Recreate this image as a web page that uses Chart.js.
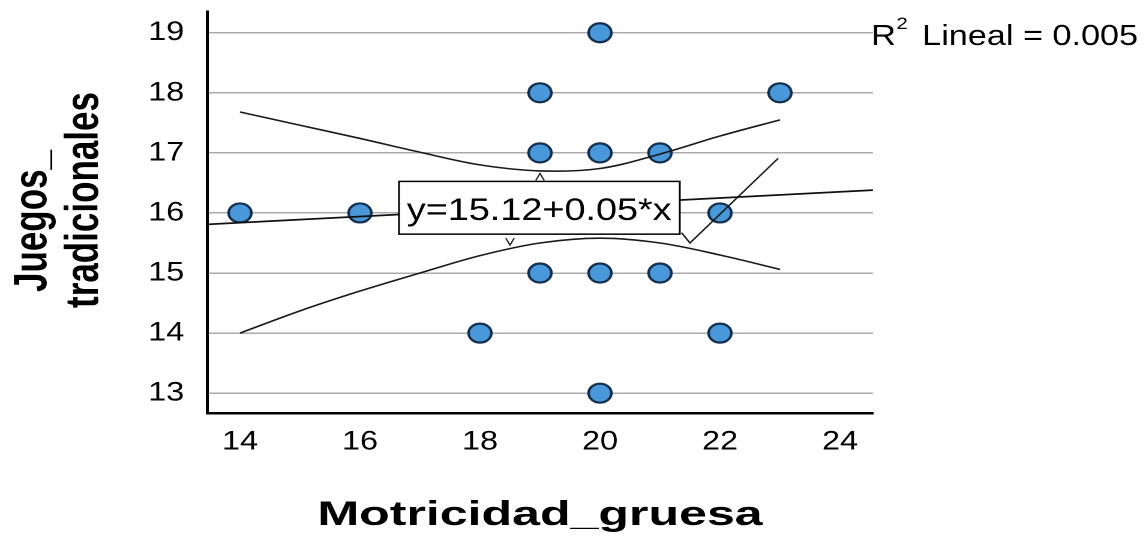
<!DOCTYPE html>
<html><head><meta charset="utf-8">
<script src="https://cdn.jsdelivr.net/npm/chart.js@4.4.1/dist/chart.umd.min.js"></script>
<style>
html,body{margin:0;padding:0;background:#fff;overflow:hidden;width:1144px;height:541px;}
#wrap{position:absolute;left:0;top:0;width:953.333px;height:541px;transform:scaleX(1.2);transform-origin:0 0;}
</style></head><body>
<div id="wrap"><canvas id="c"></canvas></div>
<script>
// ---- data ----
const xTicks = [14, 16, 18, 20, 22, 24];
const yTicks = [13, 14, 15, 16, 17, 18, 19];
const pointX = [14, 16, 18, 19, 19, 19, 20, 20, 20, 20, 21, 21, 22, 22, 23];
const pointY = [16, 16, 14, 18, 17, 15, 19, 17, 15, 13, 17, 15, 16, 14, 18];
const fitX = [13.45, 24.55];
const fitY = [15.81, 16.38];
const bandX = [14, 15, 16, 17, 18, 19, 20, 21, 22, 23];
const upperY = [17.68, 17.46, 17.24, 17.01, 16.80, 16.70, 16.74, 16.98, 17.28, 17.55];
const lowerY = [14.00, 14.37, 14.70, 15.00, 15.29, 15.50, 15.58, 15.50, 15.30, 15.06];
const leaderX = [21.36, 21.5, 22.97];
const leaderY = [15.67, 15.50, 16.91];
const xTitle = 'Motricidad_gruesa';
const yTitle = ['Juegos_', 'tradicionales'];
const eqText = 'y=15.12+0.05*x';
const r2Parts = ['R', '2', 'Lineal = 0.005'];

const FONT = '"Liberation Sans", Arial, Helvetica, sans-serif';
const pts = (xs, ys) => xs.map((v, i) => ({x: v, y: ys[i]}));

const overlay = {
  id: 'overlay',
  afterDatasetsDraw(chart) {
    const {ctx, scales: {x, y}} = chart;
    // equation label box
    const l = x.getPixelForValue(16.65), r = x.getPixelForValue(21.33);
    const t = y.getPixelForValue(16.525), b = y.getPixelForValue(15.647);
    ctx.save();
    ctx.fillStyle = '#fff';
    ctx.fillRect(l, t, r - l, b - t);
    ctx.strokeStyle = '#000';
    ctx.lineWidth = 1.5;
    ctx.strokeRect(l, t, r - l, b - t);
    ctx.font = '31.5px ' + FONT;
    ctx.fillStyle = '#000';
    ctx.textAlign = 'left';
    ctx.textBaseline = 'alphabetic';
    ctx.fillText(eqText, l + 6.5, b - 14);
    // small pointer carets
    ctx.lineWidth = 1.2;
    ctx.strokeStyle = '#222';
    const cx1 = x.getPixelForValue(19.0);
    ctx.beginPath(); ctx.moveTo(cx1 - 3.5, t - 1); ctx.lineTo(cx1, t - 8); ctx.lineTo(cx1 + 3.5, t - 1); ctx.stroke();
    const cx2 = x.getPixelForValue(18.5);
    ctx.beginPath(); ctx.moveTo(cx2 - 3.5, b + 4); ctx.lineTo(cx2, b + 11); ctx.lineTo(cx2 + 3.5, b + 4); ctx.stroke();
    ctx.restore();
  },
  afterDraw(chart) {
    const {ctx, chartArea} = chart;
    ctx.save();
    ctx.fillStyle = '#000';
    ctx.textBaseline = 'alphabetic';
    // R^2 text
    ctx.textAlign = 'left';
    ctx.font = '28.5px ' + FONT;
    let px = chartArea.right - 1.5;
    const base = 45;
    ctx.fillText(r2Parts[0], px, base);
    px += ctx.measureText(r2Parts[0]).width;
    ctx.font = '17px ' + FONT;
    ctx.fillText(r2Parts[1], px + 0.5, base - 16);
    ctx.font = '28.5px ' + FONT;
    ctx.fillText(r2Parts[2], 768.5, base);
    // x title
    ctx.font = 'bold 34px ' + FONT;
    const w = ctx.measureText(xTitle).width;
    ctx.save();
    ctx.translate((chartArea.left + chartArea.right) / 2, 525);
    ctx.scale(371 / w, 1);
    ctx.textAlign = 'center';
    ctx.fillText(xTitle, 0, 0);
    ctx.restore();
    // y title (two lines, rotated)
    ctx.font = 'bold 35px ' + FONT;
    ctx.textAlign = 'center';
    [[38.5, 221], [81.5, 200]].forEach(([bx, cy], i) => {
      ctx.save();
      ctx.translate(bx, cy);
      ctx.scale(1.1, 1);
      ctx.rotate(-Math.PI / 2);
      ctx.fillText(yTitle[i], 0, 0);
      ctx.restore();
    });
    ctx.restore();
  }
};

const lineDs = (data, extra) => Object.assign({
  data, showLine: true, borderColor: '#1a1a1a', borderWidth: 1.6,
  pointRadius: 0, pointHoverRadius: 0, fill: false
}, extra || {});

new Chart(document.getElementById('c'), {
  type: 'scatter',
  data: {
    datasets: [
      lineDs(pts(fitX, fitY), {borderWidth: 1.8, borderColor: '#111'}),
      lineDs(pts(bandX, upperY), {tension: 0.35}),
      lineDs(pts(bandX, lowerY), {tension: 0.35}),
      lineDs(pts(leaderX, leaderY), {borderWidth: 1.4}),
      {
        data: pts(pointX, pointY),
        pointRadius: 9.5, pointHoverRadius: 9.5,
        backgroundColor: 'rgb(72,152,218)',
        borderColor: 'rgb(20,46,78)', borderWidth: 2.2
      }
    ]
  },
  options: {
    responsive: true, maintainAspectRatio: false, animation: false,
    devicePixelRatio: 2,
    plugins: {legend: {display: false}, tooltip: {enabled: false}},
    layout: {padding: {left: 0, top: 9, right: 225.83, bottom: 0}},
    scales: {
      x: {
        type: 'linear', min: 13.45, max: 24.55,
        afterBuildTicks: s => { s.ticks = xTicks.map(v => ({value: v})); },
        afterFit: s => { s.height = 128; s.paddingLeft = 0; s.paddingRight = 0; },
        grid: {display: false, drawTicks: false},
        border: {display: true, color: '#000', width: 2.5},
        ticks: {font: {family: FONT, size: 27}, color: '#000', padding: 13, maxRotation: 0, autoSkip: false}
      },
      y: {
        type: 'linear', min: 12.67, max: 19.35,
        afterBuildTicks: s => { s.ticks = yTicks.map(v => ({value: v})); },
        afterFit: s => { s.width = 172.5; s.paddingTop = 0; s.paddingBottom = 0; },
        grid: {color: '#ababab', lineWidth: 1.5, drawTicks: false},
        border: {display: true, color: '#000', width: 2.5},
        ticks: {font: {family: FONT, size: 27}, color: '#000', padding: 19, autoSkip: false}
      }
    }
  },
  plugins: [overlay]
});
</script>
</body></html>
